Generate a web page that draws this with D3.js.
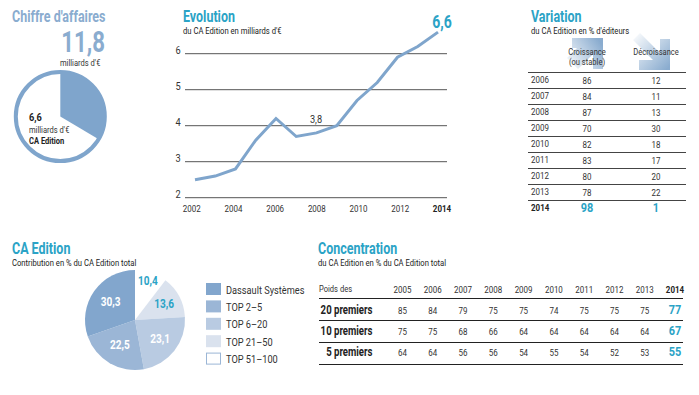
<!DOCTYPE html>
<html>
<head>
<meta charset="utf-8">
<script src="https://cdn.jsdelivr.net/npm/d3@7"></script>
<style>
  html, body { margin: 0; padding: 0; background: #fff; }
  text { font-family: "Roboto", "DejaVu Sans Condensed", sans-serif; fill: #333; }
</style>
</head>
<body>
<svg id="chart" width="699" height="395"></svg>
<script>
// donut "Chiffre d'affaires"
const caTotal = "11,8";
const caEdition = "6,6";
const donutShares = [33.5, 66.5];

// courbe Evolution
const evoYears = [2002, 2003, 2004, 2005, 2006, 2007, 2008, 2009, 2010, 2011, 2012, 2013, 2014];
const evoValues = [2.5, 2.6, 2.8, 3.6, 4.2, 3.7, 3.8, 4.0, 4.7, 5.2, 5.9, 6.2, 6.6];
const evoYTicks = [2, 3, 4, 5, 6];
const evoXTicks = [2002, 2004, 2006, 2008, 2010, 2012, 2014];

// tableau Variation
const varYears = ["2006", "2007", "2008", "2009", "2010", "2011", "2012", "2013", "2014"];
const varCroissance = [86, 84, 87, 70, 82, 83, 80, 78, 98];
const varDecroissance = [12, 11, 13, 30, 18, 17, 20, 22, 1];

// camembert CA Edition
const pieLabels = ["TOP 51–100", "TOP 21–50", "TOP 6–20", "TOP 2–5", "Dassault Systèmes"];
const pieValues = [10.4, 13.6, 23.1, 22.5, 30.3];
const pieColors = ["#ffffff", "#dae2ee", "#b9cbe2", "#9bb6d6", "#82a6cd"];

// tableau Concentration
const concYears = ["2005", "2006", "2007", "2008", "2009", "2010", "2011", "2012", "2013", "2014"];
const concRows = ["20 premiers", "10 premiers", "5 premiers"];
const conc20 = [85, 84, 79, 75, 75, 74, 75, 75, 75, 77];
const conc10 = [75, 75, 68, 66, 64, 64, 64, 64, 64, 67];
const conc5 = [64, 64, 56, 56, 54, 55, 54, 52, 53, 55];

const blue = "#7fa5cc", pale = "#8aaccf", cyan = "#2ba3c6", rule = "#444", ink = "#222";
const svg = d3.select("#chart");

// Roboto resserré horizontalement pour approcher le DIN condensé de l'original
function label(g, x, y, txt, size, opts = {}) {
    return g.append("text")
        .attr("transform", `translate(${x},${y}) scale(${opts.sx || 0.84},1)`)
        .attr("text-anchor", opts.anchor || "start")
        .attr("dominant-baseline", "middle")
        .style("font-size", size + "px")
        .style("font-weight", opts.bold ? "bold" : "normal")
        .style("fill", opts.fill || "#333")
        .text(txt);
}
const titre = (x, y, txt, fill) => label(svg, x, y, txt, 16, { bold: true, fill: fill || cyan, sx: 0.78 });
const sous = (x, y, txt) => label(svg, x, y, txt, 8.5, { fill: ink, sx: 0.9 });

// --- Chiffre d'affaires
titre(12, 18, "Chiffre d'affaires", pale);
label(svg, 105, 44, caTotal, 30, { anchor: "end", bold: true, fill: pale, sx: 0.74 });
label(svg, 60, 64, "milliards d'€", 9);

const donut = svg.append("g").attr("transform", "translate(60.3,116.5)");
donut.append("circle").attr("r", 44.5).attr("fill", "#fff").attr("stroke", blue).attr("stroke-width", 4);
donut.selectAll("path")
    .data(d3.pie().sort(null)(donutShares).slice(0, 1))
    .enter().append("path")
    .attr("d", d3.arc().innerRadius(0).outerRadius(45))
    .attr("fill", blue);
label(svg, 29, 118.5, caEdition, 11, { bold: true, fill: ink });
label(svg, 29, 130.5, "milliards d'€", 9);
label(svg, 29, 141.5, "CA Edition", 9, { bold: true, fill: ink });

// --- Evolution
titre(183, 18, "Evolution");
sous(183, 32, "du CA Edition en milliards d'€");

const evoX = d3.scaleLinear().domain([2002, 2014]).range([195, 438]);
const evoXLab = d3.scaleLinear().domain([2002, 2014]).range([191.7, 442]);
const evoY = d3.scaleLinear().domain([2, 6]).range([197.7, 53.7]);

const evo = svg.append("g");
evo.selectAll("line")
    .data(evoYTicks)
    .enter().append("line")
    .attr("x1", 185).attr("x2", 447)
    .attr("y1", d => evoY(d)).attr("y2", d => evoY(d))
    .attr("stroke", "#555").attr("stroke-width", 1);
evoYTicks.forEach(d => label(evo, 178, evoY(d) - 3, d, 11, { anchor: "middle" }));
evoXTicks.forEach(d => label(evo, evoXLab(d), 209.5, d, 9.5, {
    anchor: "middle", bold: d === 2014, fill: d === 2014 ? ink : "#333"
}));
evo.append("path")
    .datum(evoValues)
    .attr("d", d3.line().x((d, i) => evoX(evoYears[i])).y(d => evoY(d)))
    .attr("fill", "none").attr("stroke", blue).attr("stroke-width", 3);
label(evo, 316, 120.5, "3,8", 11, { anchor: "middle" });
label(evo, 442, 23, "6,6", 18, { anchor: "middle", bold: true, fill: cyan, sx: 0.78 });

// --- Variation
titre(531, 18, "Variation");
sous(531, 32, "du CA Edition en % d'éditeurs");

const defs = svg.append("defs");
function degrade(id, x1, y1, x2, y2) {
    const g = defs.append("linearGradient").attr("id", id).attr("gradientUnits", "userSpaceOnUse")
        .attr("x1", x1).attr("y1", y1).attr("x2", x2).attr("y2", y2);
    g.append("stop").attr("offset", "0%").attr("stop-color", "#fff");
    g.append("stop").attr("offset", "100%").attr("stop-color", "#8aaccf");
}
degrade("fleche-up", 565, 66, 600, 42);
degrade("fleche-down", 632, 34, 668, 68);
svg.append("path")
    .attr("d", "M572,38 H603 V69 H593 V54 L578,69 L567,58 L577,48 H572 Z")
    .attr("fill", "url(#fleche-up)");
svg.append("path")
    .attr("d", "M670,39 V70 H639 V60 H653 L633,40 L640,33 L660,53 V39 Z")
    .attr("fill", "url(#fleche-down)");
label(svg, 587, 53, "Croissance", 9, { anchor: "middle" });
label(svg, 587, 63, "(ou stable)", 9, { anchor: "middle" });
label(svg, 656, 53, "Décroissance", 9, { anchor: "middle" });

const varY = d3.scaleBand().domain(varYears).range([72, 216]);
const varCols = [587, 656];
varYears.forEach((yr, i) => {
    const last = yr === "2014";
    const y = varY(yr);
    svg.append("line").attr("x1", 528).attr("x2", 686).attr("y1", y + 0.5).attr("y2", y + 0.5).attr("stroke", rule);
    label(svg, 531, y + 8, yr, 9.5, { bold: last, fill: last ? ink : "#333" });
    label(svg, varCols[0], y + 9, varCroissance[i], last ? 13 : 9.5, { anchor: "middle", bold: last, fill: last ? cyan : "#333" });
    label(svg, varCols[1], y + 9, varDecroissance[i], last ? 13 : 9.5, { anchor: "middle", bold: last, fill: last ? cyan : "#333" });
});

// --- CA Edition
titre(12, 250, "CA Edition");
sous(12, 264, "Contribution en % du CA Edition total");

const pieG = svg.append("g").attr("transform", "translate(135,320)");
const pieArcs = d3.pie().sort(null)(pieValues);
pieG.selectAll("path")
    .data(pieArcs)
    .enter().append("path")
    .attr("d", d3.arc().innerRadius(0).outerRadius(50))
    .attr("fill", (d, i) => pieColors[i]);
const pieTextR = [40, 33, 32, 30, 30];
pieArcs.forEach((a, i) => {
    const c = d3.arc().innerRadius(pieTextR[i]).outerRadius(pieTextR[i]).centroid(a);
    label(pieG, c[0], c[1], String(pieValues[i]).replace(".", ","), 12, {
        anchor: "middle", bold: true, fill: i < 2 ? cyan : "#fff"
    });
});

const legendRows = pieLabels.slice().reverse();
const legendColors = pieColors.slice().reverse();
const legendY = d3.scaleBand().domain(legendRows).range([282, 369]);
legendRows.forEach((d, i) => {
    const y = legendY(d);
    const blank = legendColors[i] === "#ffffff";
    svg.append("rect").attr("x", blank ? 206.5 : 206).attr("y", y + (blank ? 1.5 : 1))
        .attr("width", blank ? 14 : 15).attr("height", blank ? 11 : 12)
        .attr("fill", legendColors[i]).attr("stroke", blank ? "#9bb6d6" : "none");
    label(svg, 226, y + 8.6, d, 11, { fill: "#333" });
});

// --- Concentration
titre(318, 250, "Concentration");
sous(318, 264, "du CA Edition en % du CA Edition total");

const concX = d3.scalePoint().domain(concYears).range([402.5, 675]);
const concY = d3.scalePoint().domain(concRows).range([311, 353]);
const concData = [conc20, conc10, conc5];
label(svg, 319, 290, "Poids des", 9);
concYears.forEach(yr => label(svg, concX(yr), 290, yr, 9.5, {
    anchor: "middle", bold: yr === "2014", fill: yr === "2014" ? ink : "#333"
}));
[298.5, 320.5, 342.5, 364.5].forEach(y => {
    svg.append("line").attr("x1", 319).attr("x2", 683).attr("y1", y).attr("y2", y).attr("stroke", ink);
});
concRows.forEach((r, j) => {
    label(svg, 372.5, concY(r), r, 12, { anchor: "end", bold: true, fill: ink, sx: 0.8 });
    concData[j].forEach((v, i) => {
        const last = concYears[i] === "2014";
        label(svg, concX(concYears[i]), concY(r), v, last ? 13 : 9.5, {
            anchor: "middle", bold: last, fill: last ? cyan : "#333"
        });
    });
});
</script>
</body>
</html>
